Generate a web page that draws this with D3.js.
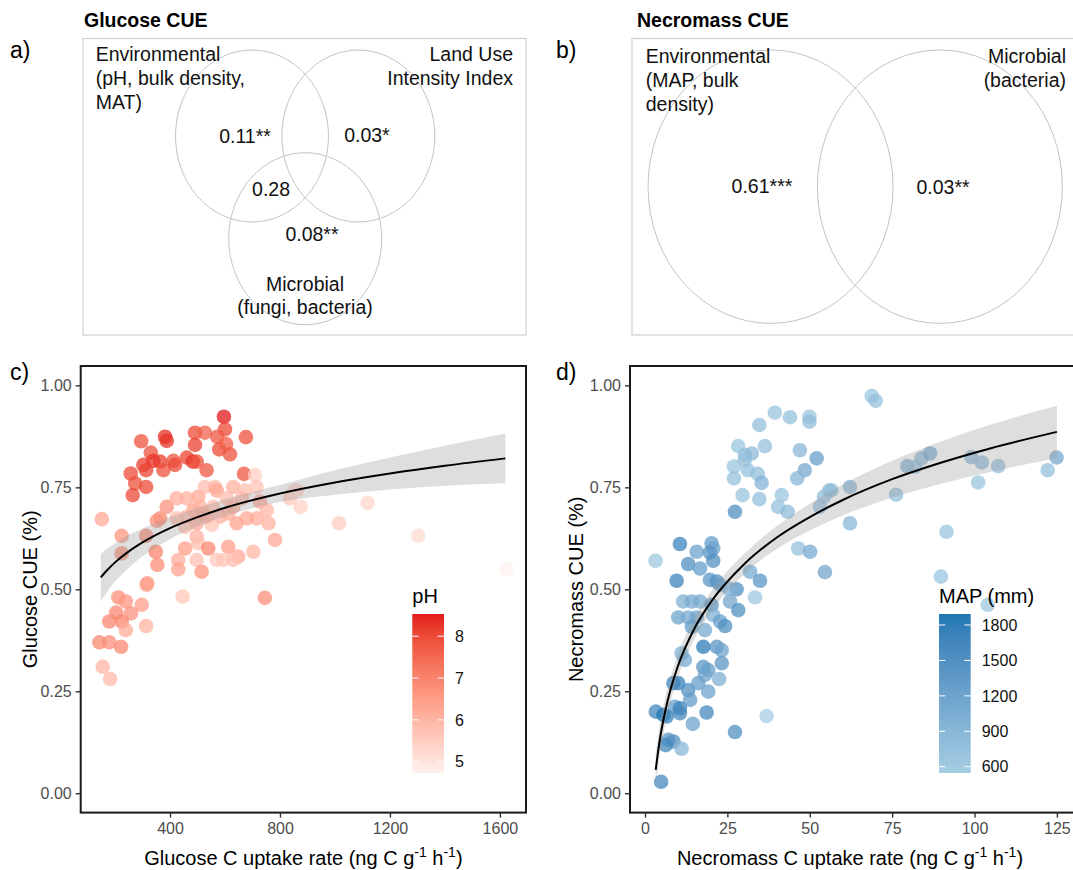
<!DOCTYPE html>
<html><head><meta charset="utf-8">
<script src="https://cdn.jsdelivr.net/npm/d3@7"></script>
<style>
html,body{margin:0;padding:0;background:#fff;}
svg{display:block;}
text{font-family:"Liberation Sans",Arial,Helvetica,sans-serif;}
</style></head><body>
<svg id="chart" width="1073" height="870"></svg>
<script>
// ================= DATA =================
// Venn a) Glucose CUE
const vennA_title = "Glucose CUE";
const vennA_sets = [["Environmental","(pH, bulk density,","MAT)"],["Land Use","Intensity Index"],["Microbial","(fungi, bacteria)"]];
const vennA_values = ["0.11**","0.03*","0.28","0.08**"];
// Venn b) Necromass CUE
const vennB_title = "Necromass CUE";
const vennB_sets = [["Environmental","(MAP, bulk","density)"],["Microbial","(bacteria)"]];
const vennB_values = ["0.61***","0.03**"];

// c) Glucose scatter: uptake (ng C g-1 h-1), CUE (fraction), soil pH
const glucoseUptake = [596,600,382,388,295,491,527,572,676,491,579,618,604,330,303,339,364,412,418,461,483,497,533,669,257,273,313,376,313,264,
 152,224,313,224,348,354,388,364,424,461,503,527,564,570,630,673,709,715,727,752,715,758,782,703,642,606,612,582,552,521,485,497,455,424,497,503,539,612,648,570,594,630,497,455,430,430,515,446,745,317,461,509,557,533,661,679,630,352,
 836,861,875,848,1015,1119,1303,1624,
 212,239,297,315,204,224,258,179,239,313,143,179,222,155,182];
const glucoseCUE = [0.923,0.892,0.874,0.864,0.863,0.884,0.884,0.874,0.873,0.854,0.843,0.831,0.856,0.835,0.805,0.815,0.813,0.815,0.805,0.823,0.813,0.813,0.792,0.783,0.784,0.760,0.792,0.792,0.751,0.731,
 0.672,0.631,0.631,0.588,0.592,0.560,0.702,0.674,0.723,0.723,0.727,0.751,0.751,0.742,0.751,0.743,0.780,0.751,0.715,0.694,0.674,0.662,0.621,0.592,0.662,0.723,0.686,0.678,0.658,0.686,0.694,0.662,0.653,0.674,0.629,0.613,0.600,0.604,0.580,0.572,0.572,0.572,0.572,0.600,0.572,0.549,0.543,0.482,0.479,0.515,0.678,0.702,0.702,0.678,0.723,0.674,0.702,0.668,
 0.723,0.743,0.702,0.739,0.662,0.712,0.631,0.550,
 0.480,0.470,0.462,0.511,0.443,0.421,0.441,0.421,0.400,0.410,0.370,0.370,0.359,0.310,0.280];
const glucosePH = [8.53,8.0,8.4,8.3,7.9,8.0,7.6,7.8,7.9,8.1,8.0,7.9,7.7,7.9,8.2,8.3,8.2,7.8,8.0,8.1,8.3,7.9,7.8,7.8,8.0,7.9,8.1,7.9,8.0,8.0,
 6.25,6.65,6.9,6.85,7.0,6.8,6.7,6.85,6.15,6.05,6.25,5.85,5.95,6.25,6.05,5.75,5.45,5.65,6.25,5.95,6.15,6.05,6.25,5.95,6.35,5.85,6.15,6.05,5.65,6.15,6.35,6.25,5.75,5.85,6.05,5.75,6.9,6.45,6.25,5.55,5.65,5.75,5.75,6.45,6.15,6.35,6.65,5.65,6.75,6.55,5.95,6.05,5.85,6.15,5.95,6.25,6.15,6.7,
 5.6,5.5,5.4,5.2,5.5,5.3,5.2,4.73,
 6.8,6.6,6.5,6.4,6.9,7.0,6.7,6.9,6.2,6.0,6.9,6.8,6.9,6.0,5.9];
// c) fitted curve with confidence band (read from figure)
const glucoseFitX  = [148,170,200,250,300,400,500,600,800,1000,1200,1400,1620];
const glucoseFitY  = [0.529,0.546,0.566,0.593,0.615,0.650,0.677,0.700,0.735,0.762,0.784,0.803,0.821];
const glucoseFitLo = [0.471,0.493,0.519,0.553,0.581,0.623,0.654,0.679,0.714,0.732,0.745,0.754,0.760];
const glucoseFitHi = [0.587,0.599,0.613,0.633,0.649,0.677,0.700,0.721,0.756,0.792,0.823,0.852,0.882];

// d) Necromass scatter: uptake, CUE, MAP (mm)
const necroUptake = [39.4,44.0,49.9,49.9,34.7,28.3,36.4,30.3,32.4,30.3,27.0,31.2,34.2,35.4,27.0,47.0,52.1,48.5,46.2,29.6,34.7,41.5,40.4,43.3,27.3,55.9,54.3,53.1,62.2,62.2,46.5,50.1,54.6,33.4,3.2,
 68.8,70.0,56.6,76.2,79.6,81.9,83.9,86.5,99.1,102.2,107.2,101.1,122.2,124.9,91.5,89.8,104.0,
 10.6,15.7,20.2,20.7,19.7,13.1,16.7,20.7,9.6,19.7,21.8,22.8,31.9,34.9,27.8,25.3,11.6,14.2,16.7,20.2,25.8,28.3,10.1,13.1,15.7,14.2,18.2,20.7,22.8,24.3,17.7,21.8,23.3,11.1,12.1,23.3,17.7,19.2,18.2,10.1,8.6,16.2,22.5,13.1,19.2,13.7,9.1,10.6,10.6,3.3,5.6,6.6,18.7,14.5,27.3,36.9,7.1,8.6,6.3,11.1,4.9];
const necroCUE = [0.933,0.922,0.923,0.911,0.903,0.851,0.851,0.829,0.833,0.817,0.801,0.792,0.783,0.761,0.772,0.841,0.821,0.792,0.772,0.731,0.721,0.731,0.702,0.690,0.690,0.742,0.727,0.702,0.751,0.662,0.600,0.592,0.542,0.480,0.570,
 0.974,0.962,0.743,0.732,0.802,0.800,0.821,0.833,0.824,0.811,0.802,0.762,0.792,0.823,0.641,0.531,0.462,
 0.611,0.592,0.613,0.600,0.590,0.562,0.551,0.570,0.521,0.523,0.519,0.511,0.543,0.521,0.500,0.502,0.470,0.470,0.470,0.462,0.470,0.449,0.431,0.431,0.431,0.408,0.400,0.437,0.421,0.410,0.359,0.359,0.351,0.343,0.327,0.319,0.310,0.302,0.290,0.270,0.270,0.270,0.280,0.253,0.249,0.229,0.212,0.208,0.196,0.200,0.192,0.188,0.198,0.170,0.150,0.189,0.131,0.127,0.118,0.109,0.028];
const necroMAP = [700,750,700,800,800,700,750,800,850,750,700,750,800,950,750,900,1250,1100,900,700,800,700,750,850,1500,850,800,750,900,900,750,1100,1150,650,650,
 700,750,800,800,1000,800,850,1100,900,850,800,700,750,1100,700,700,650,
 1700,1200,1300,1200,1400,1500,1300,1500,1700,1400,1500,1300,1100,1400,1500,950,1000,1100,1100,1400,1150,1500,1200,1100,1200,1300,1100,1000,1300,1500,1800,1400,1200,1000,1100,1400,1400,1300,1200,1750,1700,1300,1000,1500,1200,1300,1300,1700,1600,1650,1893,1700,1600,1200,1500,547,1400,1500,1600,900,1600];
const necroFitX  = [3.25,4,5,6,7.5,10,15,20,30,40,50,60,75,90,105,125];
const necroFitY  = [0.057,0.104,0.155,0.196,0.247,0.312,0.404,0.469,0.561,0.627,0.677,0.719,0.770,0.811,0.846,0.886];
const necroFitLo = [0.017,0.066,0.120,0.164,0.217,0.284,0.378,0.444,0.536,0.599,0.644,0.681,0.725,0.759,0.788,0.822];
const necroFitHi = [0.097,0.142,0.190,0.228,0.277,0.340,0.430,0.494,0.586,0.655,0.710,0.757,0.815,0.863,0.904,0.950];

// axis ticks
const cueTicks = [0,0.25,0.5,0.75,1.0];
const glucoseTicks = [400,800,1200,1600];
const necroTicks = [0,25,50,75,100,125];
const pHTicks = [5,6,7,8];
const mapTicks = [600,900,1200,1500,1800];

// ================= DRAWING =================
const svg = d3.select("#chart");
svg.append("rect").attr("width",1073).attr("height",870).attr("fill","#fff");

function panelLabel(x,y,t){
  svg.append("text").attr("x",x).attr("y",y).attr("font-size",23).attr("fill","#000").text(t);
}

// ---------- Venn diagrams ----------
function drawVenn(cfg){
  const xs = d3.scaleLinear().domain([0,cfg.uMax]).range([cfg.x0,cfg.x1]);
  const ys = d3.scaleLinear().domain([0,cfg.vMax]).range([cfg.y0,cfg.y1]);
  const g = svg.append("g");
  svg.append("text").attr("x",cfg.titleX).attr("y",26.5).attr("font-size",19.5)
    .attr("font-weight","bold").attr("fill","#000").text(cfg.title);
  g.append("rect").attr("x",xs(0)).attr("y",ys(0))
    .attr("width",xs(cfg.uMax)-xs(0)).attr("height",ys(cfg.vMax)-ys(0))
    .attr("fill","none").attr("stroke","#cfcfcf").attr("stroke-width",1.2);
  g.selectAll("ellipse").data(cfg.circles).join("ellipse")
    .attr("cx",d=>xs(d[0])).attr("cy",d=>ys(d[1]))
    .attr("rx",xs(1)-xs(0)).attr("ry",ys(1)-ys(0))
    .attr("fill","none").attr("stroke","#c4c4c4").attr("stroke-width",1);
  cfg.sets.forEach((lines,i)=>{
    const p = cfg.setPos[i];
    const t = g.append("text").attr("font-size",19.5).attr("fill","#111")
      .attr("text-anchor",p[2]);
    lines.forEach((ln,j)=>{
      t.append("tspan").attr("x",xs(p[0])).attr("y",ys(p[1])+j*p[3]).text(ln);
    });
  });
  cfg.values.forEach((v,i)=>{
    const p = cfg.valPos[i];
    g.append("text").attr("x",xs(p[0])).attr("y",ys(p[1])).attr("font-size",19.5)
      .attr("text-anchor","middle").attr("fill","#111").text(v);
  });
}

drawVenn({
  title:vennA_title, titleX:84,
  x0:83, x1:526, y0:38.5, y1:335, uMax:5.791, vMax:3.448,
  circles:[[2.209,1.134],[3.600,1.134],[2.905,2.328]],
  sets:vennA_sets,
  setPos:[[0.166,0.262,"start",24],[5.621,0.262,"end",24],[2.902,2.935,"middle",23]],
  values:vennA_values,
  valPos:[[2.118,1.215],[3.712,1.203],[2.458,1.826],[2.993,2.351]]
});
drawVenn({
  title:vennB_title, titleX:637,
  x0:632, x1:1085, y0:38.5, y1:335, uMax:3.698, vMax:2.169,
  circles:[[1.131,1.084],[2.513,1.084]],
  sets:vennB_sets,
  setPos:[[0.112,0.176,"start",24],[3.543,0.176,"end",24]],
  values:vennB_values,
  valPos:[[1.061,1.128],[2.539,1.138]]
});
panelLabel(10,58,"a)");
panelLabel(556,58,"b)");
panelLabel(10,380,"c)");
panelLabel(556,380,"d)");

// ---------- Scatter panels ----------
const TOP = 366, BOTTOM = 812.6;
function scatterPanel(cfg){
  const x = d3.scaleLinear().domain(cfg.xDomain).range([cfg.left,cfg.right]);
  const y = d3.scaleLinear().domain([-0.0475,1.0475]).range([BOTTOM,TOP]);
  const ext = d3.extent(cfg.col);
  const col = d3.scaleLinear().domain(ext).range(cfg.colors).interpolate(d3.interpolateLab);
  const g = svg.append("g");
  const clipId = "clip"+cfg.id;
  svg.append("clipPath").attr("id",clipId).append("rect")
    .attr("x",cfg.left).attr("y",TOP).attr("width",cfg.right-cfg.left).attr("height",BOTTOM-TOP);
  const pts = cfg.xs.map((v,i)=>({x:v,y:cfg.ys[i],c:cfg.col[i]}));
  g.append("g").attr("clip-path",`url(#${clipId})`).selectAll("circle").data(pts).join("circle")
    .attr("cx",d=>x(d.x)).attr("cy",d=>y(d.y)).attr("r",7.3)
    .attr("fill",d=>col(d.c)).attr("fill-opacity",0.75);
  const fit = cfg.fx.map((v,i)=>({x:v,y:cfg.fy[i],lo:cfg.flo[i],hi:cfg.fhi[i]}));
  g.append("path").datum(fit)
    .attr("d",d3.area().x(d=>x(d.x)).y0(d=>y(d.lo)).y1(d=>y(d.hi)).curve(d3.curveMonotoneX))
    .attr("fill","#999").attr("fill-opacity",0.32);
  g.append("path").datum(fit)
    .attr("d",d3.line().x(d=>x(d.x)).y(d=>y(d.y)).curve(d3.curveMonotoneX))
    .attr("fill","none").attr("stroke","#000").attr("stroke-width",2);
  // border
  g.append("rect").attr("x",cfg.left).attr("y",TOP).attr("width",cfg.right-cfg.left).attr("height",BOTTOM-TOP)
    .attr("fill","none").attr("stroke","#1a1a1a").attr("stroke-width",2);
  // axes
  const ya = g.append("g").attr("transform",`translate(${cfg.left},0)`)
    .call(d3.axisLeft(y).tickValues(cueTicks).tickFormat(d3.format(".2f")).tickSize(5).tickPadding(4));
  const xa = g.append("g").attr("transform",`translate(0,${BOTTOM})`)
    .call(d3.axisBottom(x).tickValues(cfg.ticks).tickFormat(d3.format("d")).tickSize(5).tickPadding(5));
  [ya,xa].forEach(a=>{
    a.select(".domain").remove();
    a.selectAll(".tick line").attr("stroke","#333").attr("stroke-width",1.4);
    a.selectAll(".tick text").attr("font-size",16).attr("fill","#4d4d4d")
      .attr("font-family",'"Liberation Sans",Arial,Helvetica,sans-serif');
  });
  // axis titles
  svg.append("text").attr("transform",`translate(${cfg.yTitleX},${(TOP+BOTTOM)/2}) rotate(-90)`)
    .attr("text-anchor","middle").attr("font-size",20).attr("fill","#000").text(cfg.yTitle);
  const xt = svg.append("text").attr("x",(cfg.left+cfg.right)/2 + cfg.xTitleShift).attr("y",865)
    .attr("text-anchor","middle").attr("font-size",20).attr("fill","#000");
  xt.append("tspan").text(cfg.xTitle+" (ng C g");
  xt.append("tspan").attr("dy",-8).attr("font-size",14).text("-1");
  xt.append("tspan").attr("dy",8).text(" h");
  xt.append("tspan").attr("dy",-8).attr("font-size",14).text("-1");
  xt.append("tspan").attr("dy",8).text(")");
  // colour bar legend
  const lx = cfg.legX, bw = 31.7, lTop = 614, lBot = 773;
  const ly = d3.scaleLinear().domain(ext).range([lBot,lTop]);
  const gradId = "grad"+cfg.id;
  const grad = svg.append("defs").append("linearGradient").attr("id",gradId)
    .attr("x1",0).attr("y1",1).attr("x2",0).attr("y2",0);
  d3.range(0,1.0001,0.05).forEach(t=>{
    grad.append("stop").attr("offset",t).attr("stop-color",col(ext[0]+t*(ext[1]-ext[0])));
  });
  const lg = svg.append("g");
  lg.append("text").attr("x",lx).attr("y",602.5).attr("font-size",20).attr("fill","#000").text(cfg.legTitle);
  lg.append("rect").attr("x",lx).attr("y",lTop).attr("width",bw).attr("height",lBot-lTop)
    .attr("fill",`url(#${gradId})`);
  cfg.legTicks.forEach(t=>{
    lg.append("line").attr("x1",lx).attr("x2",lx+bw/5).attr("y1",ly(t)).attr("y2",ly(t))
      .attr("stroke","#fff").attr("stroke-width",1);
    lg.append("line").attr("x1",lx+bw-bw/5).attr("x2",lx+bw).attr("y1",ly(t)).attr("y2",ly(t))
      .attr("stroke","#fff").attr("stroke-width",1);
    lg.append("text").attr("x",lx+bw+11).attr("y",ly(t)).attr("dy","0.36em")
      .attr("font-size",16).attr("fill","#111").text(t);
  });
}

scatterPanel({
  id:"c", left:80.7, right:526, xDomain:[75,1695],
  xs:glucoseUptake, ys:glucoseCUE, col:glucosePH, colors:["#fff1ee","#e31a1c"],
  fx:glucoseFitX, fy:glucoseFitY, flo:glucoseFitLo, fhi:glucoseFitHi,
  ticks:glucoseTicks, yTitle:"Glucose CUE (%)", yTitleX:37,
  xTitle:"Glucose C uptake rate", xTitleShift:0,
  legX:412.3, legTitle:"pH", legTicks:pHTicks
});
scatterPanel({
  id:"d", left:630, right:1078, xDomain:[-4.55,131.4],
  xs:necroUptake, ys:necroCUE, col:necroMAP, colors:["#a6cee3","#1f78b4"],
  fx:necroFitX, fy:necroFitY, flo:necroFitLo, fhi:necroFitHi,
  ticks:necroTicks, yTitle:"Necromass CUE (%)", yTitleX:583,
  xTitle:"Necromass C uptake rate", xTitleShift:-4,
  legX:939, legTitle:"MAP (mm)", legTicks:mapTicks
});
</script>
</body></html>
